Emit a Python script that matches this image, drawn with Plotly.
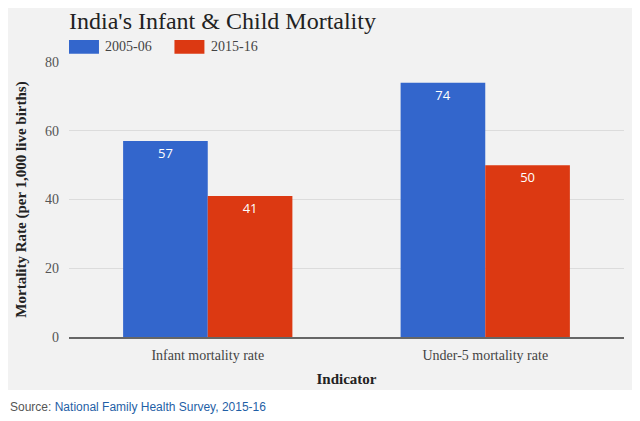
import plotly.graph_objects as go

# data
indicators = ["Infant mortality rate", "Under-5 mortality rate"]
series_names = ["2005-06", "2015-16"]
values_2005 = [57, 74]
values_2015 = [41, 50]
colors = ["#3366cc", "#dc3912"]

serif = "Liberation Serif, Times New Roman, serif"

fig = go.Figure()
for name, vals, col in zip(series_names, [values_2005, values_2015], colors):
    fig.add_trace(go.Bar(x=indicators, y=vals, name=name, marker=dict(color=col, line=dict(width=0)),
                         text=vals, textposition="inside", insidetextanchor="end",
                         textfont=dict(family="Open Sans, Arial, sans-serif", size=13, color="white"),
                         showlegend=False))

# grey panel behind the whole chart
fig.add_shape(type="rect", xref="paper", yref="paper", x0=-0.12, x1=1.05, y0=-0.193, y1=1.25,
              fillcolor="#f2f2f2", line=dict(width=0), layer="below")

# custom legend swatches
for i, (name, col) in enumerate(zip(series_names, colors)):
    x0 = 0.0 + i * 0.19
    fig.add_shape(type="rect", xref="paper", yref="paper", x0=x0, x1=x0 + 0.054, y0=1.03, y1=1.08,
                  fillcolor=col, line=dict(width=0))
    fig.add_annotation(text=name, xref="paper", yref="paper", x=x0 + 0.062, y=1.055, xanchor="left",
                       yanchor="middle", showarrow=False, font=dict(family=serif, size=14, color="#444"))

fig.add_annotation(text="India's Infant & Child Mortality", xref="paper", yref="paper", x=-0.004, y=1.15,
                   xanchor="left", yanchor="middle", showarrow=False,
                   font=dict(family=serif, size=24, color="#222"))

fig.add_annotation(text="Source: <span style='color:#1f5fa6'>National Family Health Survey, 2015-16</span>",
                   xref="paper", yref="paper", x=-0.11, y=-0.255, xanchor="left", yanchor="middle",
                   showarrow=False, font=dict(family="Liberation Sans, Arial, sans-serif", size=12, color="#555"))

# page body adds an 8px offset, so the figure is 8px smaller than the window
fig.update_layout(
    width=632, height=413,
    margin=dict(l=58, r=16, t=54, b=84),
    paper_bgcolor="white", plot_bgcolor="#f2f2f2",
    barmode="group", bargap=0.39, bargroupgap=0.0,
)
fig.update_xaxes(title_text="<b>Indicator</b>", title_font=dict(family=serif, size=15, color="#222"),
                 tickfont=dict(family=serif, size=14, color="#444"), showgrid=False,
                 showline=True, linecolor="#666", linewidth=2, ticks="", ticklabelstandoff=4,
                 title_standoff=12)
fig.update_yaxes(title_text="<b>Mortality Rate (per 1,000 live births)</b>",
                 title_font=dict(family=serif, size=15, color="#222"),
                 tickfont=dict(family=serif, size=14, color="#555"), range=[0, 80], dtick=20,
                 gridcolor="#dcdcdc", zeroline=False, ticks="", ticklabelstandoff=9, title_standoff=14)

fig.write_html("out.html")
